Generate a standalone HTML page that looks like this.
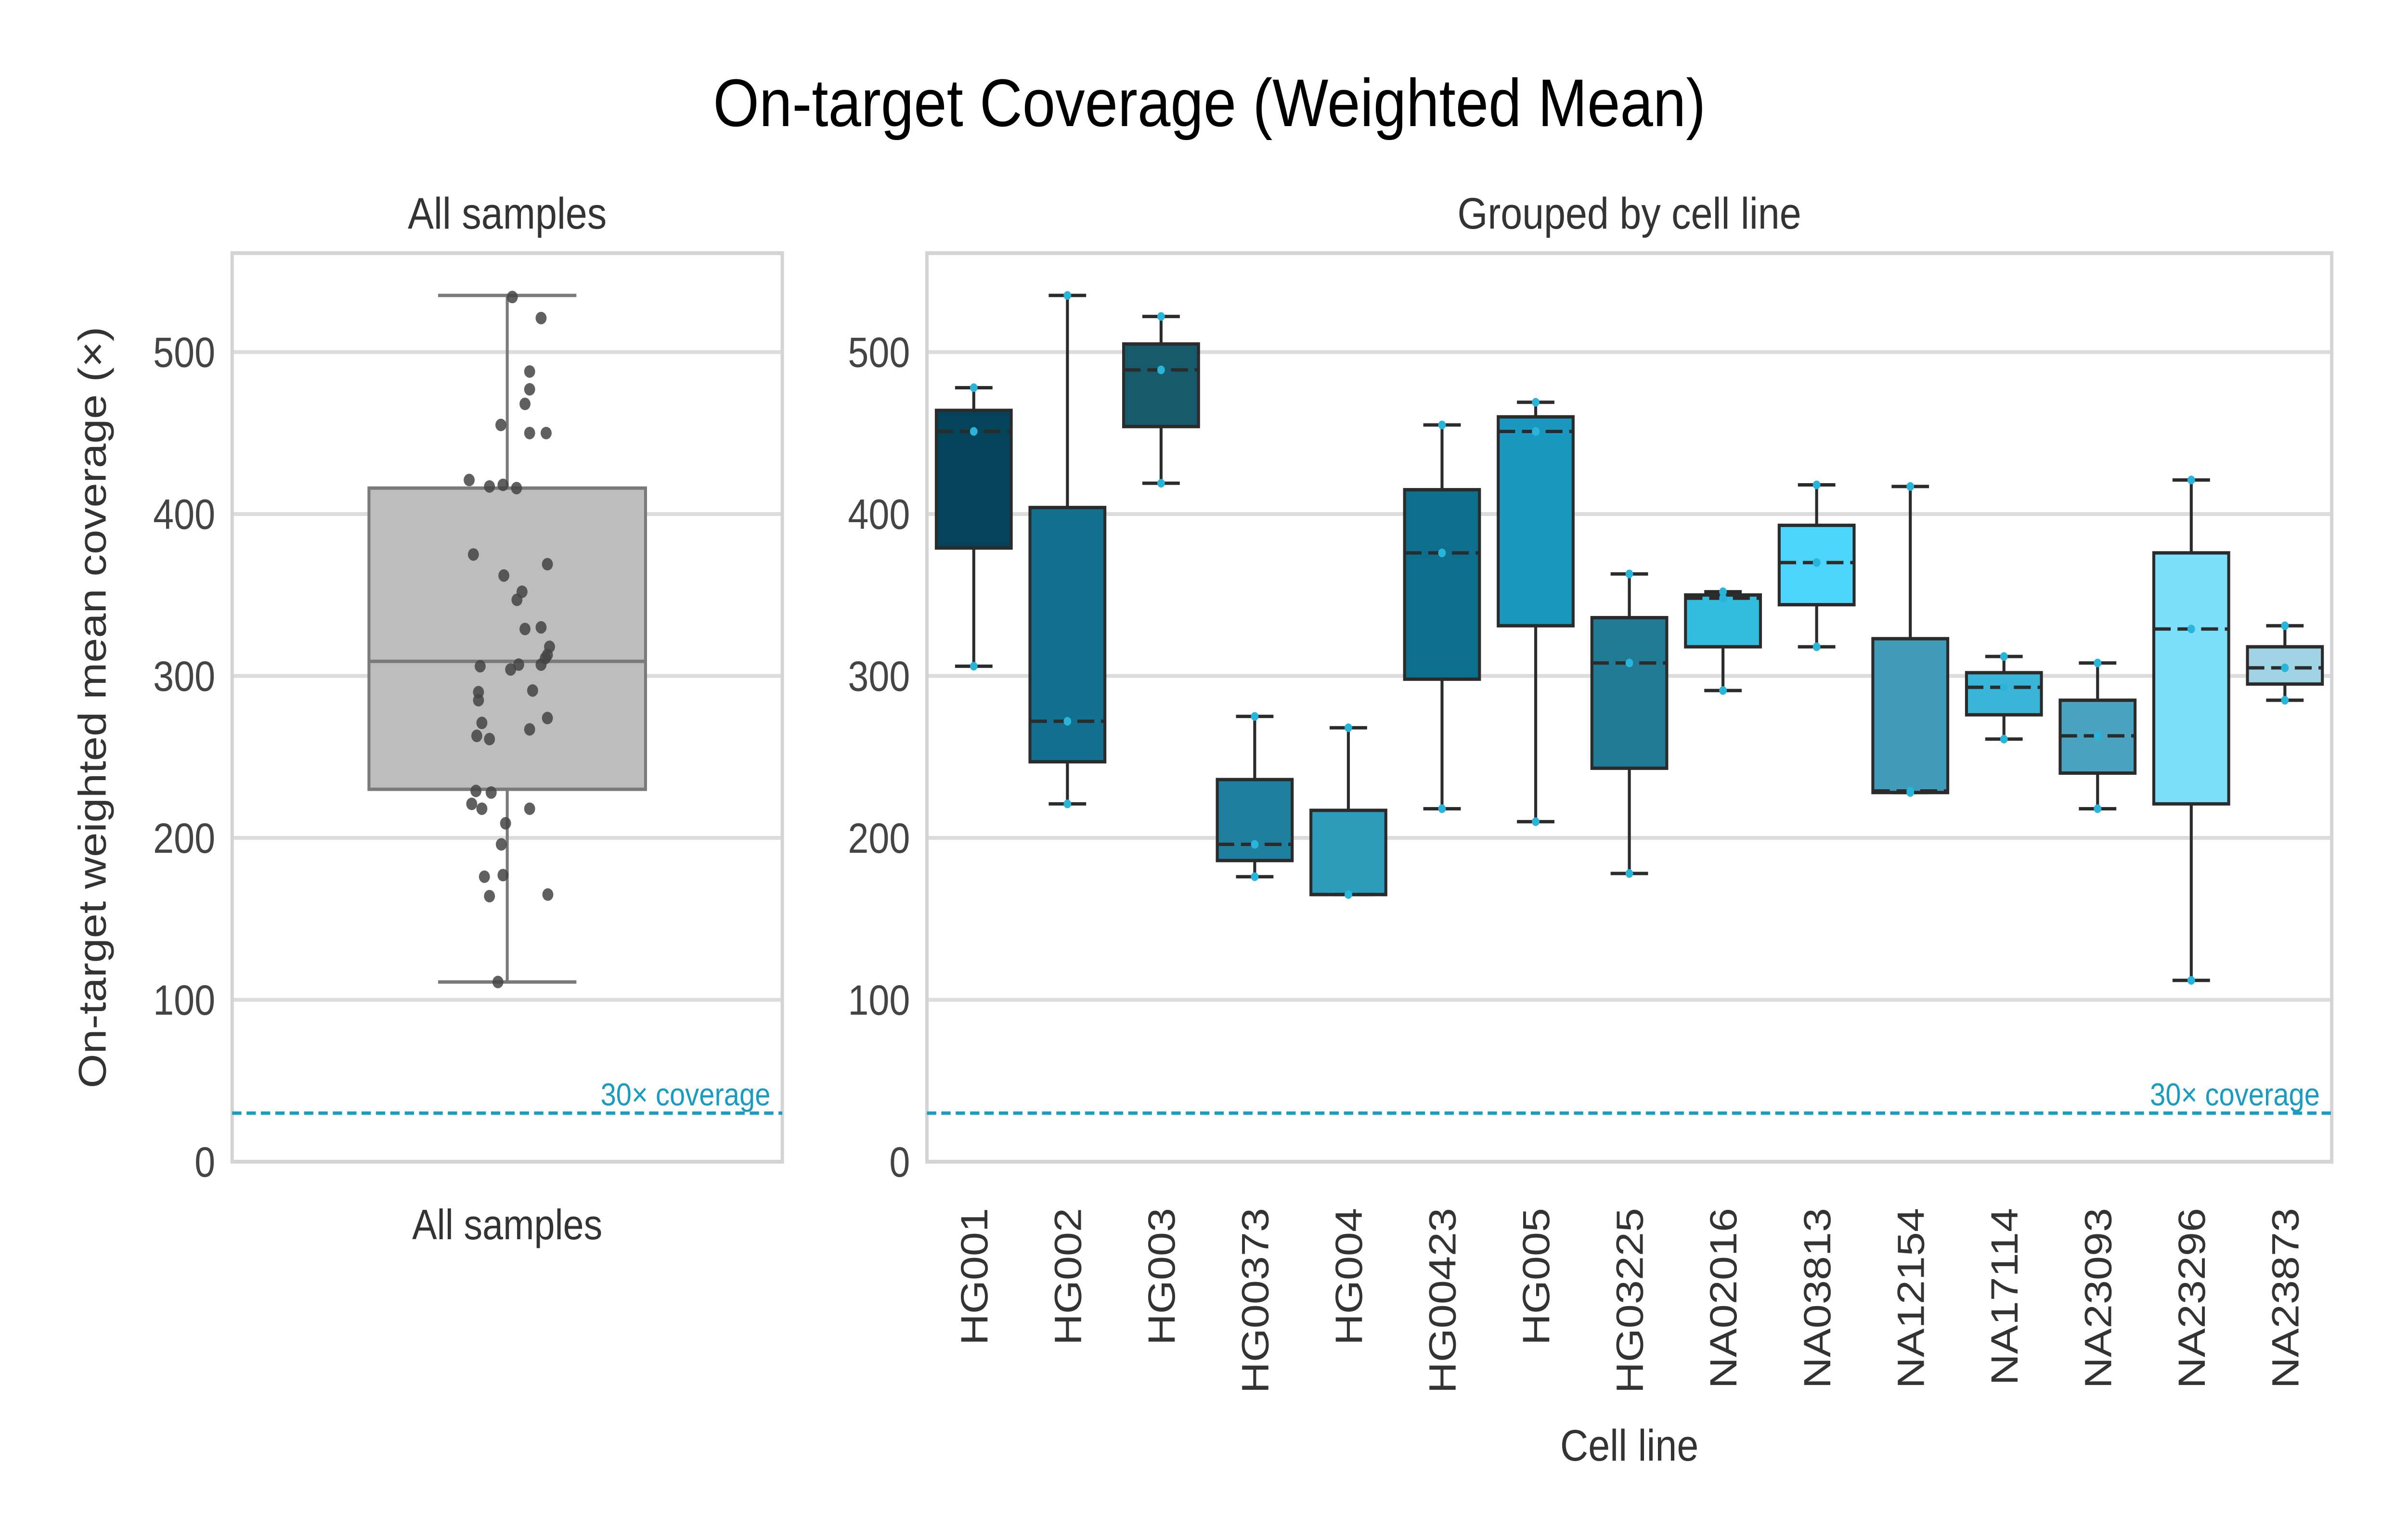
<!DOCTYPE html>
<html><head><meta charset="utf-8"><style>
html,body{margin:0;padding:0;background:#fff;overflow:hidden;width:100%;height:100%;}
svg{display:block;width:100%;height:100%;font-family:"Liberation Sans",sans-serif;}
</style></head><body>
<svg id="chart" viewBox="0 0 5692 3200" preserveAspectRatio="none" xmlns="http://www.w3.org/2000/svg">
<text x="2860" y="262" font-size="140" text-anchor="middle" fill="#000">On-target Coverage (Weighted Mean)</text>
<g id="left"></g>
<g id="right"></g>
</svg>
<script>
const yTicks=[0,100,200,300,400,500];
const categories=["HG001","HG002","HG003","HG00373","HG004","HG00423","HG005","HG03225","NA02016","NA03813","NA12154","NA17114","NA23093","NA23296","NA23873"];
const whiskLo=[306,221,419,176,165,218,210,178,291,318,228,261,218,112,285];
const q1=[379,247,454,186,165,298,331,243,318,344,228,276,240,221,295];
const med=[451,272,489,196,165,376,451,308,348,370,229,293,263,329,305];
const q3=[464,404,505,236,217,415,460,336,350,393,323,302,285,376,318];
const whiskHi=[478,535,522,275,268,455,469,363,352,418,417,312,308,421,331];
const colors=["#04445a","#13708e","#175a6b","#1f7f9e","#2d9bba","#0d6e8e","#1a98bf","#217a94","#33bbe0","#4dd4fa","#3f9bb8","#3ab5d8","#4aa3bf","#7de0fb","#a0d4e4"];
const allStats=[111,230,309,416,535];
const allPoints=[534,521,488,477,468,455,450,450,421,417,418,416,375,369,362,352,347,329,330,318,313,306,307,304,307,311,290,285,291,271,274,267,263,261,229,228,221,218,218,209,196,176,177,164,165,111];
const allJitter=[12,80,53,53,42,-15,53,92,-90,-42,-10,22,-80,95,-8,35,23,42,80,100,95,-64,27,8,80,90,-68,-68,60,-60,95,53,-72,-42,-74,-38,-84,-60,53,-4,-14,-54,-10,-42,96,-22];
const threshold=30;
const NS="http://www.w3.org/2000/svg";
const plotTop=526,plotBot=2414,vmax=561.1;
function y(v){return plotBot-(plotBot-plotTop)*v/vmax;}
function el(p,t,a){const e=document.createElementNS(NS,t);for(const k in a)e.setAttribute(k,a[k]);p.appendChild(e);return e;}
function frame(g,x0,x1,ticks){
  for(const t of yTicks){
    const gl=el(g,'line',{x1:x0,x2:x1,y1:y(t),y2:y(t),stroke:'#dcdcdc','stroke-width':8});
    
    
    if(ticks){const tx=el(g,'text',{x:x0-40,y:y(t)+31,'font-size':88,'text-anchor':'end',fill:'#444'});tx.textContent=t;
    
    }
  }
  const r=el(g,'rect',{x:x0,y:plotTop,width:x1-x0,height:plotBot-plotTop,fill:'none',stroke:'#d4d4d4','stroke-width':8});
  
  
  const th=el(g,'line',{x1:x0,x2:x1,y1:y(threshold),y2:y(threshold),stroke:'#1a9bc0','stroke-width':7,'stroke-dasharray':'22 12'});
  
  
  const tl=el(g,'text',{x:x1-28,y:y(threshold)-16,'font-size':66,'text-anchor':'end',fill:'#1a9bc0'});
  tl.textContent='30× coverage';
  
  
}
function box(g,cx,w,lo,a,m,b,hi,fill,stroke,dash,name){
  const s={stroke:stroke,'stroke-width':7};
  const grp=el(g,'g',{});
  
  
  el(grp,'line',Object.assign({x1:cx,x2:cx,y1:y(hi),y2:y(b)},s));
  el(grp,'line',Object.assign({x1:cx,x2:cx,y1:y(a),y2:y(lo)},s));
  el(grp,'line',Object.assign({x1:cx-w/4,x2:cx+w/4,y1:y(hi),y2:y(hi)},s));
  el(grp,'line',Object.assign({x1:cx-w/4,x2:cx+w/4,y1:y(lo),y2:y(lo)},s));
  el(grp,'rect',Object.assign({x:cx-w/2,y:y(b),width:w,height:Math.max(y(a)-y(b),2),fill:fill},s));
  const ml=el(grp,'line',Object.assign({x1:cx-w/2,x2:cx+w/2,y1:y(m),y2:y(m)},s));
  if(dash)ml.setAttribute('stroke-dasharray','40 16');
  return grp;
}
// left panel
const L=document.getElementById('left');
const lx0=549,lx1=1850,lcx=(lx0+lx1)/2;
frame(L,lx0,lx1,true);
box(L,lcx,654,allStats[0],allStats[1],allStats[2],allStats[3],allStats[4],'#bdbdbd','#7a7a7a',false,'all-samples-box');
allPoints.forEach((v,i)=>{
  const c=el(L,'circle',{cx:lcx+allJitter[i],cy:y(v),r:13,fill:'#444',opacity:0.85});
  
  
});
let t=el(L,'text',{x:lcx,y:475,'font-size':92,'text-anchor':'middle',fill:'#333'});t.textContent='All samples';


t=el(L,'text',{x:lcx,y:2575,'font-size':88,'text-anchor':'middle',fill:'#333'});t.textContent='All samples';


t=el(L,'text',{x:0,y:0,'font-size':92,'text-anchor':'middle',fill:'#333',transform:'translate(250,1470) rotate(-90)'});t.textContent='On-target weighted mean coverage (×)';


// right panel
const R=document.getElementById('right');
const rx0=2192,rx1=5514,step=(rx1-rx0)/categories.length;
frame(R,rx0,rx1,true);
categories.forEach((c,i)=>{
  const cx=rx0+step*(i+0.5);
  box(R,cx,step*0.8,whiskLo[i],q1[i],med[i],q3[i],whiskHi[i],colors[i],'#2b2b2b',true,'box-'+c);
  [whiskLo[i],med[i],whiskHi[i]].forEach(v=>{
    const p=el(R,'circle',{cx:cx,cy:y(v),r:9,fill:'#29b5d9'});
    
    
  });
  const tx=el(R,'text',{x:0,y:0,'font-size':90,'text-anchor':'end',fill:'#333',transform:'translate('+(cx+32)+',2510) rotate(-90)'});
  tx.textContent=c;
  
  
});
t=el(R,'text',{x:(rx0+rx1)/2,y:475,'font-size':92,'text-anchor':'middle',fill:'#333'});t.textContent='Grouped by cell line';


t=el(R,'text',{x:(rx0+rx1)/2,y:3035,'font-size':92,'text-anchor':'middle',fill:'#333'});t.textContent='Cell line';


</script>
</body></html>
